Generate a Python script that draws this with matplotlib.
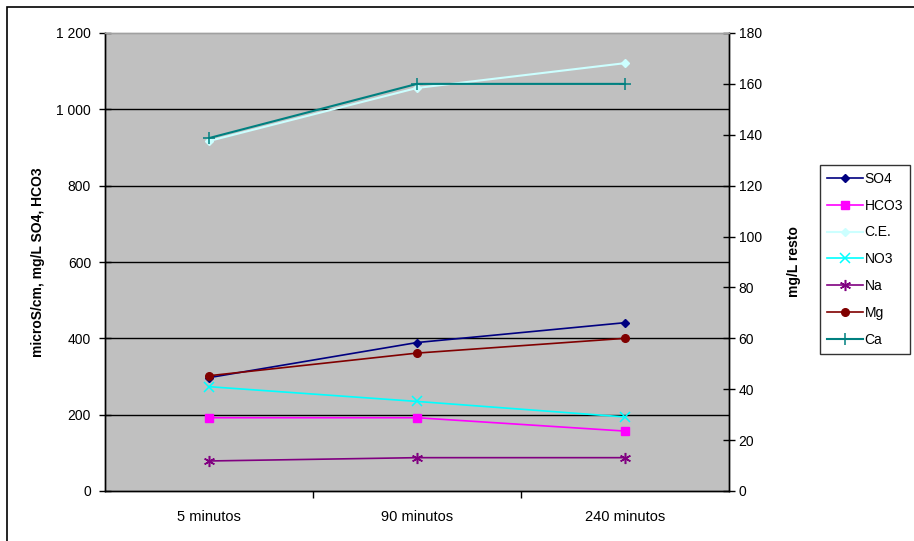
import matplotlib.pyplot as plt
import numpy as np
from matplotlib.patches import Rectangle

plt.rcParams['font.family'] = ['Liberation Sans', 'DejaVu Sans']

categorias = ["5 minutos", "90 minutos", "240 minutos"]

# eje izquierdo: microS/cm, mg/L SO4, HCO3
so4 = [297, 389, 441]
hco3 = [192, 192, 157]
ce = [917, 1056, 1121]

# eje derecho: mg/L resto
no3 = [41.0, 35.2, 29.1]
na = [11.8, 13.1, 13.1]
mg = [45.3, 54.2, 60.0]
ca = [138.7, 160.0, 160.0]

left_ticks = [0, 200, 400, 600, 800, 1000, 1200]
left_labels = ["0", "200", "400", "600", "800", "1 000", "1 200"]
right_ticks = list(range(0, 181, 20))

fig = plt.figure(figsize=(9.14, 5.41), dpi=100)
ax = fig.add_axes([105 / 914, 1 - 491 / 541, 624 / 914, 458 / 541])
ax2 = ax.twinx()

x = np.arange(len(categorias))

ax.set_facecolor("#C0C0C0")
ax.set_xlim(-0.5, 2.5)
ax.set_ylim(0, 1200)
ax2.set_ylim(0, 180)

for v in left_ticks[1:-1]:
    ax.axhline(v, color="black", lw=1.0, zorder=1)

lines = []
lines += ax.plot(x, so4, color="#000080", marker="D", ms=4.5, lw=1.2, label="SO4", zorder=3)
lines += ax.plot(x, hco3, color="#FF00FF", marker="s", ms=5.5, lw=1.2, label="HCO3", zorder=3)
lines += ax.plot(x, ce, color="#CCFFFF", marker="D", ms=4.5, lw=1.5, label="C.E.", zorder=3)
lines += ax2.plot(x, no3, color="#00FFFF", marker="x", ms=7, mew=1.1, lw=1.2, label="NO3", zorder=3)
lines += ax2.plot(x, na, color="#800080", marker=(6, 2, 0), ms=8, mew=1.1, lw=1.2, label="Na", zorder=3)
lines += ax2.plot(x, mg, color="#800000", marker="o", ms=5.5, lw=1.2, label="Mg", zorder=3)
lines += ax2.plot(x, ca, color="#008080", marker="+", ms=9, mew=1.1, lw=1.5, label="Ca", zorder=3)

ax.set_xticks([0.5, 1.5], minor=False)
ax.set_xticklabels([])
ax.set_xticks(x, minor=True)
ax.set_xticklabels(categorias, minor=True, fontsize=10.5)
ax.tick_params(axis="x", which="major", direction="out", length=5, width=1)
ax.tick_params(axis="x", which="minor", length=0, pad=14)

ax.set_yticks(left_ticks)
ax.set_yticklabels(left_labels, fontsize=10)
ax.tick_params(axis="y", direction="inout", length=8, width=1, pad=6)
ax2.set_yticks(right_ticks)
ax2.set_yticklabels([str(t) for t in right_ticks], fontsize=10)
ax2.tick_params(axis="y", direction="inout", length=8, width=1, pad=3)

for a in (ax, ax2):
    for side in ("left", "right", "bottom"):
        a.spines[side].set_color("black")
        a.spines[side].set_linewidth(1.0)
    a.spines["top"].set_color("#A0A0A0")
    a.spines["top"].set_linewidth(1.0)

ax.set_ylabel("microS/cm, mg/L SO4, HCO3", fontsize=10, fontweight="bold", labelpad=8)
ax2.set_ylabel("mg/L resto", fontsize=10, fontweight="bold", labelpad=18)

leg = fig.legend(handles=lines, loc="upper left", bbox_to_anchor=(820 / 914, 1 - 165 / 541),
                 fontsize=10, frameon=True, fancybox=False, edgecolor="black",
                 borderpad=0.5, labelspacing=0.92, handlelength=2.6, handletextpad=0.1,
                 borderaxespad=0)
leg.get_frame().set_linewidth(1.0)

fig.patches.append(Rectangle((7 / 914, -0.05), 1.0, 1 - 7 / 541 + 0.05,
                             transform=fig.transFigure, fill=False,
                             edgecolor="black", lw=1.2))

fig.savefig("out.png", dpi=100)
